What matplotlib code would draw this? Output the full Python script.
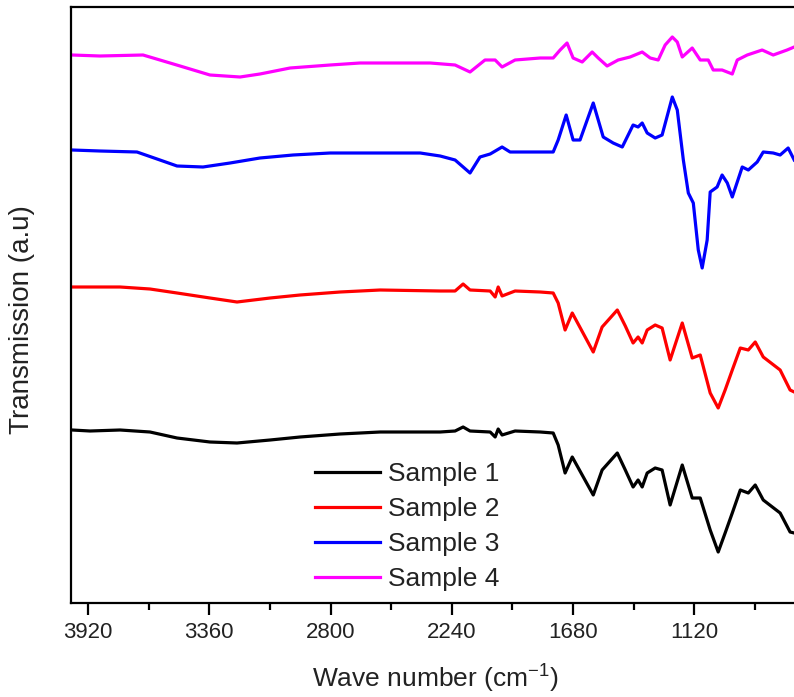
import matplotlib
matplotlib.use("Agg")
import matplotlib.pyplot as plt

plt.rcParams["font.family"] = ["Liberation Sans", "DejaVu Sans"]
plt.rcParams["mathtext.fontset"] = "custom"
plt.rcParams["mathtext.rm"] = "Liberation Sans"
plt.rcParams["mathtext.default"] = "regular"

# FTIR spectra (stacked, arbitrary transmission units)
wn_12 = [3994, 3911, 3772, 3634, 3509, 3357, 3232, 3079, 2941, 2756,
         2571, 2294, 2225, 2188, 2156, 2063, 2040, 2026, 2008, 1948, 1832,
         1772, 1749, 1717, 1684, 1587, 1546, 1476, 1439, 1403, 1380, 1361,
         1338, 1301, 1269, 1232, 1176, 1130, 1093, 1047, 1010, 978,
         945, 908, 871, 839, 802, 724, 678, 659]
sample1 = [173, 172, 173, 171, 165, 161, 160, 163, 166, 169,
           171, 171, 172, 176, 172, 171, 166, 174, 168, 172, 171,
           170, 158, 130, 146, 108, 133, 150, 133, 116, 123, 116,
           130, 135, 133, 98, 138, 105, 105, 73, 51, 70,
           90, 113, 110, 118, 103, 90, 71, 70]
sample2 = [316, 316, 316, 314, 310, 305, 301, 305, 308, 311,
           313, 312, 312, 319, 313, 312, 306, 316, 307, 312, 311,
           310, 300, 273, 290, 251, 276, 293, 277, 260, 266, 260,
           273, 278, 275, 243, 280, 245, 248, 210, 195, 213,
           233, 255, 253, 261, 246, 233, 213, 211]

wn_3 = [3994, 3865, 3694, 3588, 3509, 3389, 3264, 3126, 2973, 2802,
        2386, 2294, 2225, 2156, 2110, 2063, 2008, 1971, 1892, 1832,
        1772, 1749, 1712, 1680, 1648, 1587, 1541, 1495, 1453, 1403,
        1380, 1361, 1338, 1301, 1269, 1222, 1199, 1171, 1148, 1125,
        1102, 1084, 1061, 1047, 1015, 992, 968, 945, 899, 871,
        830, 802, 756, 724, 687, 659]
sample3 = [453, 452, 451, 443, 437, 436, 440, 445, 448, 450,
           450, 447, 443, 430, 446, 449, 456, 451, 451, 451,
           451, 463, 488, 463, 463, 500, 466, 460, 456, 478,
           476, 480, 470, 465, 468, 506, 493, 443, 410, 400,
           353, 335, 363, 411, 416, 428, 420, 406, 436, 433,
           441, 451, 450, 448, 455, 443]

wn_4 = [3994, 3865, 3666, 3588, 3495, 3357, 3218, 3126, 2987, 2802,
        2664, 2340, 2225, 2156, 2087, 2040, 2008, 1948, 1832, 1772,
        1740, 1708, 1680, 1638, 1592, 1564, 1523, 1472, 1417, 1361,
        1324, 1287, 1255, 1222, 1199, 1176, 1130, 1093, 1056, 1033,
        992, 945, 922, 876, 807, 756, 692, 659]
sample4 = [548, 547, 548, 543, 537, 528, 526, 529, 535, 538,
           540, 540, 538, 531, 543, 543, 536, 543, 545, 545,
           553, 560, 545, 541, 551, 545, 537, 543, 546, 551,
           545, 543, 558, 566, 561, 546, 555, 543, 543, 533,
           533, 529, 543, 548, 553, 548, 553, 556]

labels = ["Sample 1", "Sample 2", "Sample 3", "Sample 4"]
colors = ["#000000", "#ff0000", "#0000ff", "#ff00ff"]
xticks = [3920, 3360, 2800, 2240, 1680, 1120]
xminor = [3640, 3080, 2520, 1960, 1400, 840]

W, H = 794, 697
fig = plt.figure(figsize=(W / 100, H / 100), dpi=100)
ax = fig.add_axes([70.7 / W, (H - 603) / H, (W - 70.7) / W, 596 / H])

series = [(wn_12, sample1), (wn_12, sample2), (wn_3, sample3), (wn_4, sample4)]
for (x, y), lab, c in zip(series, labels, colors):
    ax.plot(x, y, color=c, lw=2.3, label=lab, solid_joinstyle="round")

ax.set_xlim(4000, 660)
ax.set_ylim(0, 596)
ax.set_xticks(xticks)
ax.set_xticklabels([str(t) for t in xticks])
ax.set_xticks(xminor, minor=True)
ax.set_yticks([])

for s in ["left", "bottom", "top"]:
    ax.spines[s].set_linewidth(1.6)
ax.spines["right"].set_visible(False)

ax.tick_params(axis="x", which="major", direction="out", length=8.5, width=1.6,
               pad=5, labelsize=16, labelcolor="#222222")
ax.tick_params(axis="x", which="minor", direction="out", length=5, width=1.6)

ax.set_xlabel("Wave number (cm$^{-1}$)", fontsize=19, color="#222222")
ax.xaxis.set_label_coords(0.504, -0.1)
ax.set_ylabel("Transmission (a.u)", fontsize=20, color="#222222")
ax.yaxis.set_label_coords(-0.05, 0.475)

leg = ax.legend(loc="upper left", bbox_to_anchor=(315 / W, 1 - 462 / H),
                bbox_transform=fig.transFigure, frameon=False, fontsize=19,
                handlelength=2.45, handletextpad=0.3, labelspacing=0.42,
                borderpad=0, borderaxespad=0)
for t in leg.get_texts():
    t.set_color("#222222")

fig.savefig("out.png", dpi=100)
